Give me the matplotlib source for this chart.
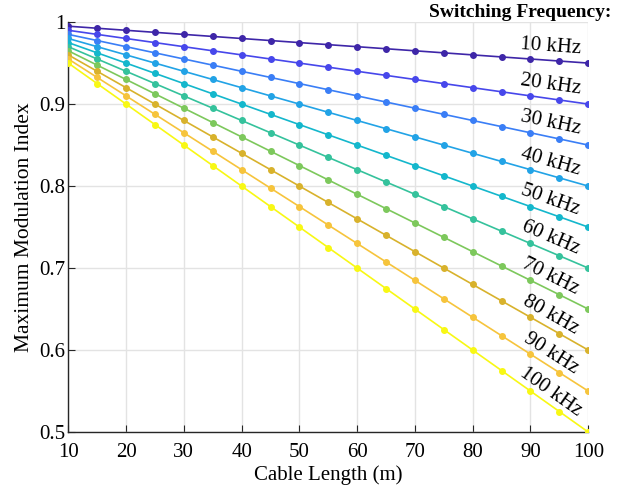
import numpy as np
import matplotlib
matplotlib.use("Agg")
import matplotlib.pyplot as plt

# cable length (m)
cable_len = [10, 15, 20, 25, 30, 35, 40, 45, 50, 55, 60, 65, 70, 75, 80, 85, 90, 95, 100]

freq_labels = ["10 kHz", "20 kHz", "30 kHz", "40 kHz", "50 kHz",
               "60 kHz", "70 kHz", "80 kHz", "90 kHz", "100 kHz"]

m_10k = [0.995, 0.9925, 0.99, 0.9875, 0.985, 0.9825, 0.98, 0.9775, 0.975, 0.9725,
         0.97, 0.9675, 0.965, 0.9625, 0.96, 0.9575, 0.955, 0.9525, 0.95]
m_20k = [0.99, 0.985, 0.98, 0.975, 0.97, 0.965, 0.96, 0.955, 0.95, 0.945,
         0.94, 0.935, 0.93, 0.925, 0.92, 0.915, 0.91, 0.905, 0.90]
m_30k = [0.985, 0.9775, 0.97, 0.9625, 0.955, 0.9475, 0.94, 0.9325, 0.925, 0.9175,
         0.91, 0.9025, 0.895, 0.8875, 0.88, 0.8725, 0.865, 0.8575, 0.85]
m_40k = [0.98, 0.97, 0.96, 0.95, 0.94, 0.93, 0.92, 0.91, 0.90, 0.89,
         0.88, 0.87, 0.86, 0.85, 0.84, 0.83, 0.82, 0.81, 0.80]
m_50k = [0.975, 0.9625, 0.95, 0.9375, 0.925, 0.9125, 0.90, 0.8875, 0.875, 0.8625,
         0.85, 0.8375, 0.825, 0.8125, 0.80, 0.7875, 0.775, 0.7625, 0.75]
m_60k = [0.97, 0.955, 0.94, 0.925, 0.91, 0.895, 0.88, 0.865, 0.85, 0.835,
         0.82, 0.805, 0.79, 0.775, 0.76, 0.745, 0.73, 0.715, 0.70]
m_70k = [0.965, 0.9475, 0.93, 0.9125, 0.895, 0.8775, 0.86, 0.8425, 0.825, 0.8075,
         0.79, 0.7725, 0.755, 0.7375, 0.72, 0.7025, 0.685, 0.6675, 0.65]
m_80k = [0.96, 0.94, 0.92, 0.90, 0.88, 0.86, 0.84, 0.82, 0.80, 0.78,
         0.76, 0.74, 0.72, 0.70, 0.68, 0.66, 0.64, 0.62, 0.60]
m_90k = [0.955, 0.9325, 0.91, 0.8875, 0.865, 0.8425, 0.82, 0.7975, 0.775, 0.7525,
         0.73, 0.7075, 0.685, 0.6625, 0.64, 0.6175, 0.595, 0.5725, 0.55]
m_100k = [0.95, 0.925, 0.90, 0.875, 0.85, 0.825, 0.80, 0.775, 0.75, 0.725,
          0.70, 0.675, 0.65, 0.625, 0.60, 0.575, 0.55, 0.525, 0.50]

series = [m_10k, m_20k, m_30k, m_40k, m_50k, m_60k, m_70k, m_80k, m_90k, m_100k]

# parula-like colours
colors = ["#3e26a8", "#4747eb", "#3a7ef6", "#22a3e6", "#14b7cc",
          "#35c29c", "#7dc85c", "#d8b22c", "#f6c43c", "#f8f814"]

plt.rcParams["font.family"] = ["Liberation Serif", "DejaVu Serif"]

fig = plt.figure(figsize=(6.18, 4.91), dpi=100)
ax = fig.add_axes([0.1105, 0.120, 0.8414, 0.835])

for vals, c in zip(series, colors):
    ax.plot(cable_len, vals, "-o", color=c, lw=1.2, ms=4, zorder=3)

ax.set_xlim(10, 100)
ax.set_ylim(0.5, 1.0)
ax.set_xticks(np.arange(10, 101, 10))
ax.set_yticks([0.5, 0.6, 0.7, 0.8, 0.9, 1.0])
ax.set_yticklabels(["0.5", "0.6", "0.7", "0.8", "0.9", "1"])
ax.grid(True, color="#e3e3e3", lw=1, zorder=0)
ax.tick_params(direction="in", labelsize=15, color="#262626", length=5)
ax.tick_params(axis="x", pad=8)
ax.tick_params(axis="y", pad=2)
for s in ["top", "right"]:
    ax.spines[s].set_visible(False)
for s in ["left", "bottom"]:
    ax.spines[s].set_color("#262626")
    ax.spines[s].set_linewidth(1.0)

ax.set_xlabel("Cable Length (m)", fontsize=15, labelpad=2)
ax.set_ylabel("Maximum Modulation Index", fontsize=15.5, labelpad=4)

# labels along lines
lab_x = 93.5
for vals, lab in zip(series, freq_labels):
    y0 = np.interp(lab_x, cable_len, vals)
    p1 = ax.transData.transform((cable_len[0], vals[0]))
    p2 = ax.transData.transform((cable_len[-1], vals[-1]))
    ang = np.degrees(np.arctan2(p2[1] - p1[1], p2[0] - p1[0]))
    ax.annotate(lab, (lab_x, y0), xytext=(0, 10), textcoords="offset points",
                ha="center", va="center", rotation=ang, rotation_mode="anchor",
                fontsize=15, zorder=5)

fig.text(0.99, 0.975, "Switching Frequency:", ha="right", va="center",
         fontsize=14, fontweight="bold")

fig.savefig("out.png", dpi=100)
